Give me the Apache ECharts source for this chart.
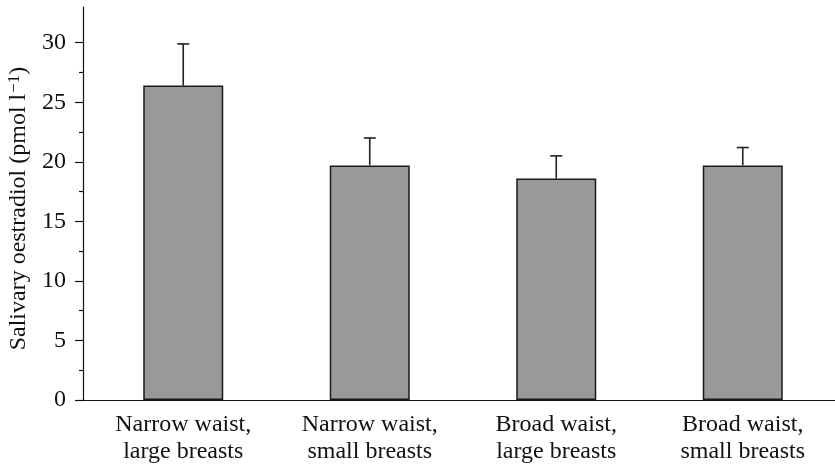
<!DOCTYPE html>
<html>
<head>
<meta charset="utf-8">
<script src="https://cdn.jsdelivr.net/npm/echarts@6/dist/echarts.min.js"></script>
<style>
  html, body { margin: 0; padding: 0; background: #fff; }
  #chart { width: 835px; height: 468px; }
</style>
</head>
<body>
<div id="chart"></div>
<script>
// Group labels (two lines each)
const categories = [
  'Narrow waist,\nlarge breasts',
  'Narrow waist,\nsmall breasts',
  'Broad waist,\nlarge breasts',
  'Broad waist,\nsmall breasts'
];
// Mean salivary oestradiol (pmol l^-1)
const means = [26.4, 19.7, 18.6, 19.7];
// Standard error (drawn upward only)
const errors = [3.5, 2.3, 1.9, 1.5];
// Labelled y ticks and the unlabelled minor ticks between them
const yTicks = [0, 5, 10, 15, 20, 25, 30];
const yMinorTicks = [2.5, 7.5, 12.5, 17.5, 22.5, 27.5];

const FONT = 'Liberation Serif';
const INK = '#111';
const chart = echarts.init(document.getElementById('chart'));

chart.setOption({
  animation: false,
  backgroundColor: '#fff',
  grid: [
    { left: 90, width: 746, top: 7, bottom: 68, containLabel: false, outerBoundsMode: 'none' },
    { left: 83, width: 752, top: 7, bottom: 68, containLabel: false, outerBoundsMode: 'none' }
  ],
  xAxis: [
    {
      type: 'category',
      gridIndex: 0,
      data: categories,
      axisLine: { show: false },
      axisTick: { show: false },
      axisLabel: {
        fontFamily: FONT, fontSize: 24, color: INK,
        lineHeight: 27, margin: 11, interval: 0
      }
    },
    {
      // full-width baseline running from the y axis to the right edge
      type: 'category',
      gridIndex: 1,
      data: [],
      axisLine: { show: true, lineStyle: { color: INK, width: 1.2 } },
      axisTick: { show: false },
      axisLabel: { show: false }
    }
  ],
  yAxis: [
    {
      type: 'value',
      gridIndex: 0,
      position: 'left',
      min: 0, max: 33, interval: 5,
      offset: 7,
      axisLine: { show: true, lineStyle: { color: INK, width: 1.2 } },
      axisTick: { show: true, inside: false, length: 8, customValues: yTicks, lineStyle: { color: INK, width: 1.2 } },
      splitLine: { show: false },
      axisLabel: {
        fontFamily: FONT, fontSize: 24, color: INK, margin: 17,
        customValues: yTicks
      },
      name: 'Salivary oestradiol (pmol l{sup|−1})',
      nameLocation: 'middle',
      nameGap: 48,
      nameTextStyle: {
        fontFamily: FONT, fontSize: 24, color: INK, padding: [0, 10, 0, 0],
        rich: { sup: { fontFamily: FONT, fontSize: 17, color: INK, verticalAlign: 'top', padding: [0, 0, 10, 1] } }
      }
    },
    {
      type: 'value', gridIndex: 1, min: 0, max: 33, show: false
    },
    {
      // short minor ticks
      type: 'value',
      gridIndex: 0,
      min: 0, max: 33,
      offset: 7,
      position: 'left',
      axisLine: { show: false },
      axisTick: { show: true, inside: false, length: 4, customValues: yMinorTicks, lineStyle: { color: INK, width: 1.2 } },
      axisLabel: { show: false },
      splitLine: { show: false }
    }
  ],
  series: [
    {
      type: 'bar',
      xAxisIndex: 0, yAxisIndex: 0,
      data: means,
      barWidth: 80,
      itemStyle: { color: '#999999', borderColor: '#1a1a1a', borderWidth: 1.5 },
      z: 2
    },
    {
      type: 'custom',
      xAxisIndex: 0, yAxisIndex: 0,
      data: means.map((m, i) => [i, m, m + errors[i]]),
      z: 3,
      renderItem: function (params, api) {
        const base = api.coord([api.value(0), api.value(1)]);
        const top = api.coord([api.value(0), api.value(2)]);
        const cap = 6;
        const st = { stroke: '#222', lineWidth: 1.6 };
        return {
          type: 'group',
          children: [
            { type: 'line', shape: { x1: base[0], y1: base[1], x2: top[0], y2: top[1] }, style: st },
            { type: 'line', shape: { x1: top[0] - cap, y1: top[1], x2: top[0] + cap, y2: top[1] }, style: st }
          ]
        };
      }
    }
  ]
});
</script>
</body>
</html>
